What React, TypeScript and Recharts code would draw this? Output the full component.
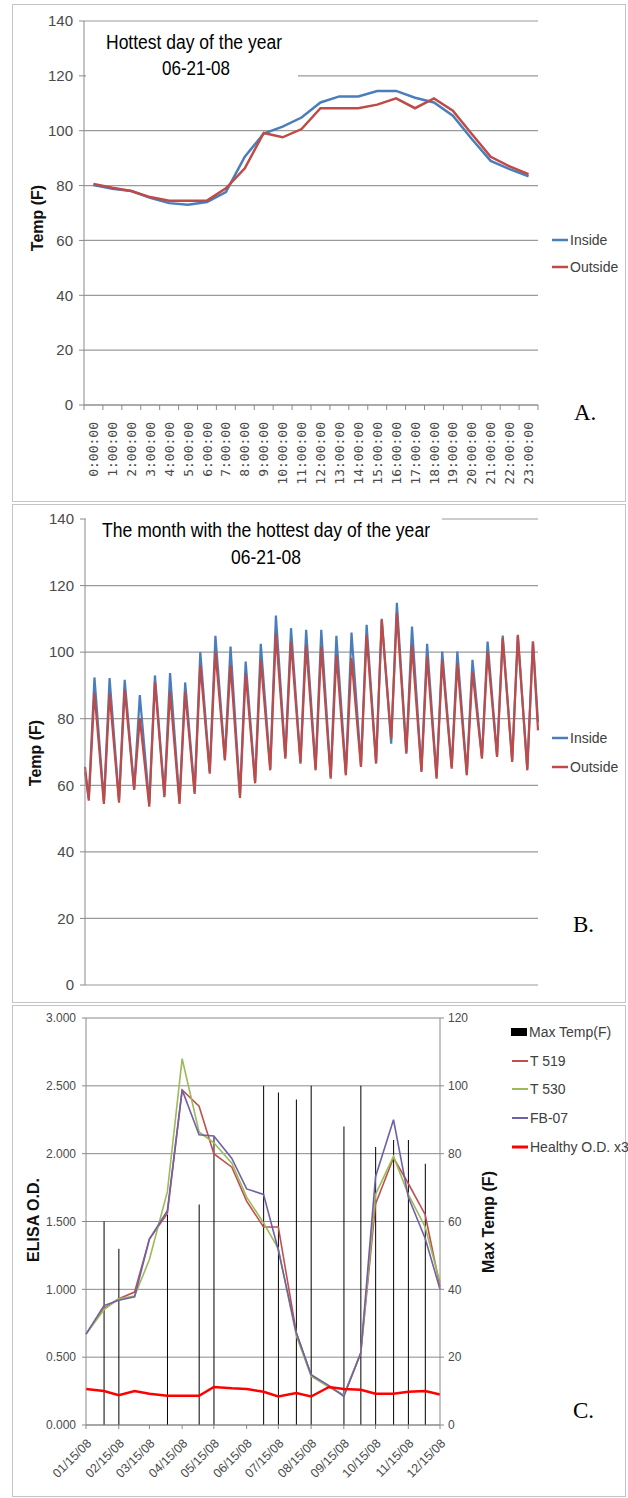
import React from 'react'
import { LineChart, ComposedChart, Line, Bar, XAxis, YAxis, CartesianGrid } from 'recharts'

const NARROW = "'Liberation Sans Narrow', 'Arial Narrow', 'Liberation Sans', Arial, sans-serif"
const SANS = "'Liberation Sans', Arial, sans-serif"
const SERIF = "'Liberation Serif', 'Times New Roman', serif"
const MONO = "'DejaVu Sans Mono', monospace"
const GRID = '#9a9a9a'
const AXIS = '#8a8a8a'
const TICK_TXT = '#4a4a4a'
const BLUE = '#4a7ebb'
const RED = '#be4b48'

// ---- A. hottest day, hourly
const hours = [
  '0:00:00', '1:00:00', '2:00:00', '3:00:00', '4:00:00', '5:00:00', '6:00:00', '7:00:00',
  '8:00:00', '9:00:00', '10:00:00', '11:00:00', '12:00:00', '13:00:00', '14:00:00', '15:00:00',
  '16:00:00', '17:00:00', '18:00:00', '19:00:00', '20:00:00', '21:00:00', '22:00:00', '23:00:00',
]
const dayInside = [80.2, 78.8, 78, 75.5, 73.6, 73, 74, 77.6, 90.5, 99, 101.5, 104.8, 110.3, 112.5, 112.5, 114.5, 114.5, 112, 110.3, 105.5, 97, 89, 86, 83.4]
const dayOutside = [80.6, 79.2, 78, 75.8, 74.5, 74.5, 74.5, 79, 86.3, 99.2, 97.6, 100.6, 108.2, 108.2, 108.2, 109.5, 111.8, 108.2, 111.8, 107.3, 98.8, 90.5, 87, 84.2]
const tempTicks = [0, 20, 40, 60, 80, 100, 120, 140]

// ---- B. the month (daily lows around 6am, highs around 3pm)
const lowHour = 6
const highHour = 15
const monthStart = { inside: 64, outside: 65.5 }
const monthEnd = { inside: 79, outside: 76.5 }
const outsideLow = [55.4, 54.4, 54.8, 58.6, 53.6, 56.4, 54.4, 57.4, 63.5, 67.5, 56.2, 60.6, 64.5, 68, 66.5, 64.5, 62, 63, 65.5, 66.5, 74, 69.5, 64, 62, 65, 63, 68, 68.5, 67, 64.5]
const insideLow = [56, 55, 55.5, 59, 54.5, 57, 55, 58, 64, 68, 57, 61, 65, 68.5, 67, 65, 62.5, 63.5, 66, 67, 72.5, 70, 64.5, 62.5, 65.5, 63.5, 68.5, 69, 67.5, 65]
const outsideHigh = [87.8, 87.6, 88.8, 80.2, 91, 88, 88, 96.2, 100.2, 96.2, 93.7, 97.7, 105.7, 103.2, 102.2, 101.7, 99.2, 98.2, 105.2, 109.7, 111.8, 102.2, 98.7, 97.7, 96.7, 94.2, 100.2, 104.2, 105.2, 103.2]
const insideHigh = [92.4, 92.2, 91.7, 87.1, 93, 93.7, 90.9, 100, 104.9, 101.7, 97.2, 102.5, 111, 107.2, 106.7, 106.7, 104.9, 105.9, 108.2, 110, 114.8, 107.7, 102.5, 100.2, 100.2, 97.7, 103.2, 105, 104.9, 103.2]

// ---- C. ELISA over the year
const sampleDates = [
  '01/15/08', '02/01/08', '02/15/08', '03/01/08', '03/15/08', '04/01/08', '04/15/08', '05/01/08',
  '05/15/08', '06/01/08', '06/15/08', '07/01/08', '07/15/08', '08/01/08', '08/15/08', '09/01/08',
  '09/15/08', '10/01/08', '10/15/08', '11/01/08', '11/15/08', '12/01/08', '12/15/08',
]
const maxTemp = [null, 60, 52, null, null, 62, null, 65, 85, null, null, 100, 98, 96, 100, null, 88, 100, 82, 84, 84, 77, null]
const t519 = [0.67, 0.86, 0.93, 0.98, 1.37, 1.56, 2.47, 2.35, 2.0, 1.9, 1.65, 1.46, 1.46, 0.68, 0.37, 0.28, 0.22, 0.53, 1.63, 1.97, 1.78, 1.55, 1.02]
const t530 = [0.67, 0.85, 0.93, 0.95, 1.22, 1.72, 2.7, 2.16, 2.08, 1.93, 1.68, 1.49, 1.3, 0.66, 0.36, 0.28, 0.22, 0.53, 1.7, 1.98, 1.7, 1.46, 1.05]
const fb07 = [0.67, 0.88, 0.92, 0.945, 1.37, 1.58, 2.47, 2.14, 2.13, 1.965, 1.74, 1.7, 1.29, 0.68, 0.37, 0.29, 0.21, 0.53, 1.83, 2.25, 1.68, 1.375, 1.0]
const healthy = [0.265, 0.25, 0.22, 0.25, 0.23, 0.215, 0.215, 0.215, 0.28, 0.27, 0.265, 0.245, 0.21, 0.235, 0.21, 0.28, 0.265, 0.26, 0.23, 0.23, 0.245, 0.25, 0.225]
const monthTicks = ['01/15/08', '02/15/08', '03/15/08', '04/15/08', '05/15/08', '06/15/08', '07/15/08', '08/15/08', '09/15/08', '10/15/08', '11/15/08', '12/15/08']
const odTicks = [0, 0.5, 1, 1.5, 2, 2.5, 3]
const maxTempTicks = [0, 20, 40, 60, 80, 100, 120]

const toTime = (s: string) => {
  const [m, d, y] = s.split('/').map(Number)
  return Date.UTC(2000 + y, m - 1, d)
}
const fmtDate = (t: number) => {
  const d = new Date(t)
  const p = (n: number) => String(n).padStart(2, '0')
  return `${p(d.getUTCMonth() + 1)}/${p(d.getUTCDate())}/${p(d.getUTCFullYear() % 100)}`
}

const dayData = hours.map((h, i) => ({ i, inside: dayInside[i], outside: dayOutside[i] }))
const hourAxisTicks = [-0.5, ...hours.flatMap((_, i) => [i, i + 0.5])]

const monthData = [
  { h: 0, ...monthStart },
  ...outsideLow.flatMap((_, d) => [
    { h: d * 24 + lowHour, inside: insideLow[d], outside: outsideLow[d] },
    { h: d * 24 + highHour, inside: insideHigh[d], outside: outsideHigh[d] },
  ]),
  { h: 719, ...monthEnd },
]

const elisaData = sampleDates.map((s, i) => ({
  t: toTime(s),
  maxTemp: maxTemp[i],
  t519: t519[i],
  t530: t530[i],
  fb07: fb07[i],
  healthy: healthy[i],
}))

function HourTick({ x, y, payload }: any) {
  const v = payload.value
  if (!Number.isInteger(v)) return <line x1={x} x2={x} y1={y} y2={y + 5} stroke={AXIS} />
  const ty = y + 17
  return (
    <text x={x} y={ty} transform={`rotate(-90, ${x}, ${ty})`} textAnchor="end" dy="0.35em"
      fontSize={13} fontFamily={MONO} fill={TICK_TXT}>
      {hours[v]}
    </text>
  )
}

function DateTick({ x, y, payload }: any) {
  const tx = x + 3
  const ty = y + 12
  return (
    <text x={tx} y={ty} transform={`rotate(-45, ${tx}, ${ty})`} textAnchor="end" dy="0.35em"
      fontSize={12.5} fontFamily={SANS} fill={TICK_TXT}>
      {fmtDate(payload.value)}
    </text>
  )
}

const tempTick = { fontSize: 15, fill: TICK_TXT, fontFamily: NARROW }

function Box({ top, height }: { top: number; height: number }) {
  return (
    <div style={{ position: 'absolute', left: 12, top, width: 612, height, border: '1px solid #c4c4c4' }} />
  )
}

function LegendLine({ x, y, color, label, width = 2.5 }: any) {
  return (
    <g>
      <line x1={x} x2={x + 16} y1={y} y2={y} stroke={color} strokeWidth={width} />
      <text x={x + 18} y={y} dy="0.35em" fontSize={14} fontFamily={NARROW} fill="#404040">{label}</text>
    </g>
  )
}

function VLabel({ x, y, text }: any) {
  return (
    <text x={x} y={y} transform={`rotate(-90, ${x}, ${y})`} textAnchor="middle" dy="0.35em"
      fontSize={16} fontWeight="bold" fontFamily={SANS} fill="#111">{text}</text>
  )
}

export default function App() {
  return (
    <div style={{ position: 'absolute', left: 0, top: 0, width: 628, height: 1498, background: '#fff', overflow: 'hidden' }}>
      <Box top={4} height={496} />
      <Box top={504} height={497} />
      <Box top={1005} height={490} />

      <div style={{ position: 'absolute', left: 0, top: 0 }}>
        <LineChart width={628} height={502} data={dayData} margin={{ top: 21, right: 90, left: 44, bottom: 22 }}>
          <CartesianGrid vertical={false} stroke={GRID} strokeWidth={1.2} />
          <XAxis dataKey="i" type="number" domain={[-0.5, 23.5]} ticks={hourAxisTicks} interval={0}
            height={75} tickSize={0} tickMargin={0} tickLine={false} stroke={AXIS} tick={<HourTick />} />
          <YAxis domain={[0, 140]} ticks={tempTicks} width={40} tickSize={5} tickMargin={6}
            stroke={AXIS} tick={tempTick} />
          <Line dataKey="inside" stroke={BLUE} strokeWidth={2.5} dot={false} isAnimationActive={false} />
          <Line dataKey="outside" stroke={RED} strokeWidth={2.5} dot={false} isAnimationActive={false} />
        </LineChart>
      </div>

      <div style={{ position: 'absolute', left: 0, top: 503 }}>
        <LineChart width={628} height={499} data={monthData} margin={{ top: 16, right: 90, left: 45, bottom: 17 }}>
          <CartesianGrid vertical={false} stroke={GRID} strokeWidth={1.2} />
          <XAxis dataKey="h" type="number" domain={[0, 719]} hide />
          <YAxis domain={[0, 140]} ticks={tempTicks} width={40} tickSize={5} tickMargin={6}
            stroke={AXIS} tick={tempTick} />
          <Line dataKey="inside" stroke={BLUE} strokeWidth={2.2} dot={false} isAnimationActive={false} />
          <Line dataKey="outside" stroke={RED} strokeWidth={2.2} dot={false} isAnimationActive={false} />
        </LineChart>
      </div>

      <div style={{ position: 'absolute', left: 0, top: 1003 }}>
        <ComposedChart width={628} height={495} data={elisaData} margin={{ top: 15, right: 138, left: 36, bottom: 13 }}>
          <CartesianGrid vertical={false} yAxisId="od" stroke="#8a8a8a" />
          <XAxis dataKey="t" type="number" domain={[toTime('01/15/08'), toTime('12/15/08')]}
            ticks={monthTicks.map(toTime)} interval={0} height={60} tickSize={4} tickMargin={0}
            stroke={AXIS} tick={<DateTick />} />
          <YAxis yAxisId="od" domain={[0, 3]} ticks={odTicks} width={50} tickSize={4} tickMargin={6}
            stroke={AXIS} tickFormatter={(v: number) => v.toFixed(3)}
            tick={{ fontSize: 12, fill: TICK_TXT, fontFamily: NARROW }} />
          <YAxis yAxisId="temp" orientation="right" domain={[0, 120]} ticks={maxTempTicks} width={50}
            tickSize={4} tickMargin={4} stroke={AXIS}
            tick={{ fontSize: 12, fill: TICK_TXT, fontFamily: NARROW }} />
          <Bar yAxisId="temp" dataKey="maxTemp" fill="#000" barSize={1} isAnimationActive={false} />
          <Line yAxisId="od" dataKey="t519" stroke="#c0504d" strokeWidth={1.6} dot={false} isAnimationActive={false} />
          <Line yAxisId="od" dataKey="t530" stroke="#9bbb59" strokeWidth={1.6} dot={false} isAnimationActive={false} />
          <Line yAxisId="od" dataKey="fb07" stroke="#7060a8" strokeWidth={1.6} dot={false} isAnimationActive={false} />
          <Line yAxisId="od" dataKey="healthy" stroke="#ff0000" strokeWidth={2.5} dot={false} isAnimationActive={false} />
        </ComposedChart>
      </div>

      <svg width={628} height={1498} style={{ position: 'absolute', left: 0, top: 0, pointerEvents: 'none' }}>
        {/* A */}
        <rect x={86} y={28} width={212} height={60} fill="#fff" />
        <text x={106} y={49} textLength={176} lengthAdjust="spacingAndGlyphs" fontSize={20} fontFamily={NARROW}>Hottest day of the year</text>
        <text x={162} y={75} textLength={68} lengthAdjust="spacingAndGlyphs" fontSize={20} fontFamily={NARROW}>06-21-08</text>
        <VLabel x={37} y={218} text="Temp (F)" />
        <LegendLine x={552} y={240} color={BLUE} label="Inside" />
        <LegendLine x={552} y={267} color={RED} label="Outside" />
        <text x={574} y={420} fontSize={23} fontFamily={SERIF}>A.</text>

        {/* B */}
        <rect x={86} y={509} width={356} height={62} fill="#fff" />
        <text x={102} y={537} textLength={328} lengthAdjust="spacingAndGlyphs" fontSize={20} fontFamily={NARROW}>The month with the hottest day of the year</text>
        <text x={231} y={564} textLength={70} lengthAdjust="spacingAndGlyphs" fontSize={20} fontFamily={NARROW}>06-21-08</text>
        <VLabel x={35} y={753} text="Temp (F)" />
        <LegendLine x={552} y={738} color={BLUE} label="Inside" />
        <LegendLine x={552} y={767} color={RED} label="Outside" />
        <text x={573} y={932} fontSize={23} fontFamily={SERIF}>B.</text>

        {/* C */}
        <VLabel x={33} y={1220} text="ELISA O.D." />
        <VLabel x={488} y={1222} text="Max Temp (F)" />
        <rect x={511} y={1028} width={16} height={8} fill="#000" />
        <text x={529} y={1032} dy="0.35em" fontSize={14} fontFamily={NARROW} fill="#404040">Max Temp(F)</text>
        <LegendLine x={512} y={1061} color="#c0504d" label="T 519" width={2} />
        <LegendLine x={512} y={1089} color="#9bbb59" label="T 530" width={2} />
        <LegendLine x={512} y={1118} color="#7060a8" label="FB-07" width={2} />
        <LegendLine x={512} y={1147} color="#ff0000" label="Healthy O.D. x3" width={3} />
        <text x={573} y={1418} fontSize={23} fontFamily={SERIF}>C.</text>
      </svg>
    </div>
  )
}
